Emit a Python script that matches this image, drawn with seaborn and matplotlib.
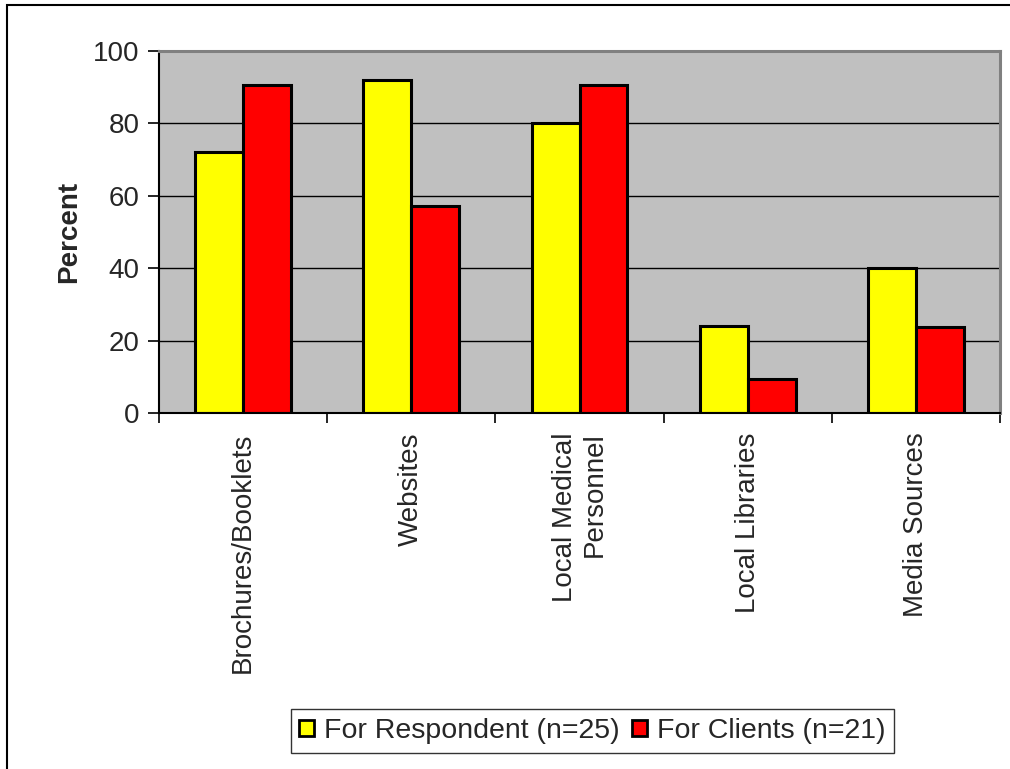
import matplotlib
matplotlib.use("Agg")
import matplotlib.pyplot as plt
import matplotlib.patches as mpatches
import seaborn as sns
import pandas as pd
import numpy as np

sources = ["Brochures/Booklets", "Websites", "Local Medical\nPersonnel",
           "Local Libraries", "Media Sources"]
respondent_pct = [72, 92, 80, 24, 40]
clients_pct = [90.5, 57.1, 90.5, 9.5, 23.8]
series_names = ["For Respondent (n=25)", "For Clients (n=21)"]
y_ticks = [0, 20, 40, 60, 80, 100]

df = pd.DataFrame({
    "source": sources * 2,
    "pct": respondent_pct + clients_pct,
    "group": [series_names[0]] * len(sources) + [series_names[1]] * len(sources),
})

sns.set_style("white")
plt.rcParams["font.family"] = ["Liberation Sans", "DejaVu Sans"]
plt.rcParams["font.size"] = 20

fig = plt.figure(figsize=(10.10, 7.69), dpi=100)
ax = fig.add_axes([159 / 1010, 1 - 413 / 769, 841 / 1010, 362 / 769])
ax.set_facecolor("#C0C0C0")

sns.barplot(data=df, x="source", y="pct", hue="group", order=sources,
            hue_order=series_names, palette=["#FFFF00", "#FF0000"],
            edgecolor="black", linewidth=2.2, width=0.57, gap=0,
            saturation=1, errorbar=None, ax=ax, zorder=3)

# axes ranges and grid
ax.set_ylim(0, 100)
ax.set_xlim(-0.5, len(sources) - 0.5)
ax.set_yticks(y_ticks)
for v in y_ticks[1:-1]:
    ax.axhline(v, color="black", lw=1.0, zorder=1)

ax.tick_params(axis="y", direction="out", length=8, width=1.2, color="black",
               pad=6, labelsize=20, left=True)
ax.set_xticks(range(len(sources)))
ax.set_xticklabels(sources, rotation=90, ha="center", va="top",
                   multialignment="right", fontsize=20)
ax.tick_params(axis="x", which="major", length=0, pad=14)
ax.set_xticks(np.arange(-0.5, len(sources), 1.0), minor=True)
ax.tick_params(axis="x", which="minor", direction="out", length=7, width=1.2,
               color="black", bottom=True)

ax.set_xlabel("")
ax.set_ylabel("Percent", fontweight="bold", fontsize=20, labelpad=8)

for side in ["left", "bottom"]:
    ax.spines[side].set_color("black")
    ax.spines[side].set_linewidth(1.5)
for side in ["top", "right"]:
    ax.spines[side].set_color("#808080")
    ax.spines[side].set_linewidth(2.2)
for sp in ax.spines.values():
    sp.set_visible(True)
    sp.set_zorder(4)

# legend below the chart
ax.get_legend().remove()
handles = [mpatches.Patch(facecolor=c, edgecolor="black", linewidth=2)
           for c in ["#FFFF00", "#FF0000"]]
leg = fig.legend(handles, series_names, loc="center",
                 bbox_to_anchor=(592.5 / 1010, 1 - 731 / 769), ncol=2,
                 frameon=True, fancybox=False, shadow=False,
                 handlelength=0.53, handleheight=0.53, handletextpad=0.35,
                 columnspacing=0.42, borderpad=0.3, fontsize=20.5,
                 borderaxespad=0)
leg.get_frame().set_edgecolor("black")
leg.get_frame().set_linewidth(1.0)

# outer chart frame
fig.patches.append(mpatches.Rectangle((7 / 1010, -0.2), 1.2, 1.2 - 5 / 769,
                                      transform=fig.transFigure, fill=False,
                                      edgecolor="black", linewidth=1.5))

fig.savefig("out.png", dpi=100)
